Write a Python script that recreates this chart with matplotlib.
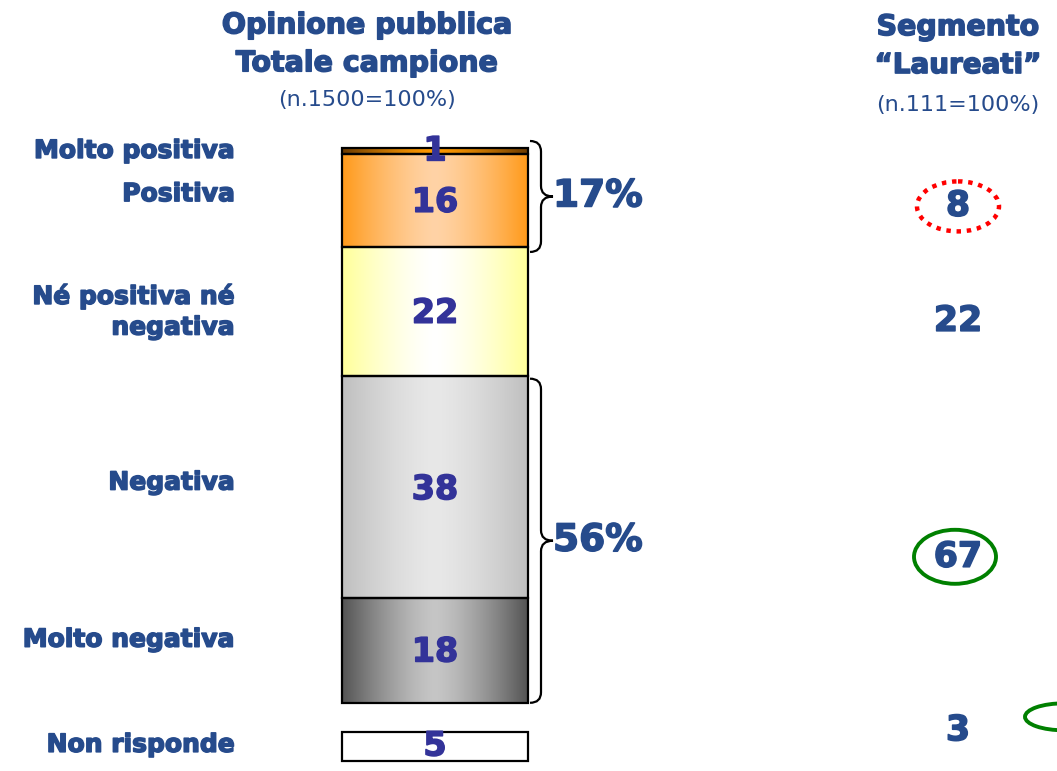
import numpy as np
import matplotlib
matplotlib.use('Agg')
import matplotlib.pyplot as plt
import matplotlib.patheffects as pe
from matplotlib.patches import Rectangle, Ellipse, PathPatch
from matplotlib.path import Path

# data
categories = ['Molto positiva', 'Positiva', 'Né positiva né\nnegativa', 'Negativa', 'Molto negativa']
totale = [1, 16, 22, 38, 18]
non_risponde = 5
laureati = [8, 22, 67, 3]
bracket_pct = ['17%', '56%']

# styles
edge_cols = ['#6b3a00', '#ff9a1a', '#ffff99', '#bfbfbf', '#545454']
mid_cols = ['#ff9900', '#ffd3a6', '#ffffff', '#e8e8e8', '#c6c6c6']
txt_blue = '#264b8c'
num_blue = '#333399'


def heavy(c):
    # thicken DejaVu bold a little to look like the original heavy font
    return [pe.withStroke(linewidth=1.1, foreground=c)]


W, H = 1057, 771
fig = plt.figure(figsize=(W / 100, H / 100), dpi=100)
ax = fig.add_axes([0, 0, 1, 1])
# x in pixels, y in percentage units (inverted, 5.84 px per point)
px0, scale = 148, 5.84
ax.set_xlim(0, W)
ax.set_ylim((H - px0) / scale, -px0 / scale)
ax.axis('off')

bx, bw = 342, 186
bottoms = np.concatenate([[0], np.cumsum(totale)[:-1]])


def grad(c_edge, c_mid, n=200):
    e = np.array(matplotlib.colors.to_rgb(c_edge))
    m = np.array(matplotlib.colors.to_rgb(c_mid))
    t = np.linspace(0, 1, n)
    w = 1 - np.abs(2 * t - 1) ** 1.4
    return (e[None, :] * (1 - w[:, None]) + m[None, :] * w[:, None])[None, :, :]


for i, v in enumerate(totale):
    b = bottoms[i]
    ax.imshow(grad(edge_cols[i], mid_cols[i]), extent=(bx, bx + bw, b + v, b),
              aspect='auto', interpolation='bilinear', zorder=1)
    ax.add_patch(Rectangle((bx, b), bw, v, fill=False, ec='black', lw=1.6, zorder=2))

# non risponde box
nr_bottom = sum(totale) + 5
ax.add_patch(Rectangle((bx, nr_bottom), bw, non_risponde, fc='white', ec='black', lw=1.6, zorder=2))

# value labels
val_y = [bottoms[0] + 0.5, bottoms[1] + 8.3, bottoms[2] + 11.3, bottoms[3] + 19.5, bottoms[4] + 9.3]
for v, y in zip(totale, val_y):
    ax.text(bx + bw / 2, y, str(v), ha='center', va='center', fontsize=24,
            fontweight='bold', color=num_blue, zorder=3, path_effects=heavy(num_blue))
ax.text(bx + bw / 2, nr_bottom + 2.4, str(non_risponde), ha='center', va='center',
        fontsize=24, fontweight='bold', color=num_blue, zorder=3, path_effects=heavy(num_blue))

# category labels
lab_y = [0.5, 7.9, 28.0, 57.3, 84.2]
for lab, y in zip(categories, lab_y):
    ax.text(235, y, lab, ha='right', va='center', fontsize=18, fontweight='bold',
            color=txt_blue, linespacing=1.35, multialignment='right', path_effects=heavy(txt_blue))
ax.text(235, nr_bottom + 2.2, 'Non risponde', ha='right', va='center', fontsize=18,
        fontweight='bold', color=txt_blue, path_effects=heavy(txt_blue))


def brace(y0, y1, x0=530, xs=541, xt=553, r=1.8):
    ym = (y0 + y1) / 2
    verts = [(x0, y0), (xs, y0), (xs, y0 + r), (xs, ym - r), (xs, ym), (xt, ym),
             (xs, ym), (xs, ym + r), (xs, y1 - r), (xs, y1), (x0, y1)]
    codes = [Path.MOVETO, Path.CURVE3, Path.CURVE3, Path.LINETO, Path.CURVE3, Path.CURVE3,
             Path.CURVE3, Path.CURVE3, Path.LINETO, Path.CURVE3, Path.CURVE3]
    ax.add_patch(PathPatch(Path(verts, codes), fill=False, ec='black', lw=1.6))
    return ym


cum = np.cumsum(totale)
ym1 = brace(-1.2, cum[1] + 0.8)
ym2 = brace(cum[2] + 0.5, cum[4])
ax.text(553, ym1, bracket_pct[0], ha='left', va='center', fontsize=27, fontweight='bold',
        color=txt_blue, path_effects=heavy(txt_blue))
ax.text(553, ym2, bracket_pct[1], ha='left', va='center', fontsize=27, fontweight='bold',
        color=txt_blue, path_effects=heavy(txt_blue))

# laureati column
lau_y = [9.9, 29.6, 70.0, 99.7]
for v, y in zip(laureati, lau_y):
    ax.text(958, y, str(v), ha='center', va='center', fontsize=25, fontweight='bold',
            color=txt_blue, path_effects=heavy(txt_blue))
ax.add_patch(Ellipse((958, lau_y[0] + 0.1), 82, 50 / scale, fill=False, ec='#ff0000',
                     lw=3.2, ls=(0, (1, 1.3))))
ax.add_patch(Ellipse((955, lau_y[2]), 82, 54 / scale, fill=False, ec='#008000', lw=2.8))
ax.add_patch(Ellipse((1064, 97.4), 78, 27 / scale, fill=False, ec='#008000', lw=2.8, clip_on=False))

# headings
ax.text(367, -21.0, 'Opinione pubblica', ha='center', va='center', fontsize=20.5,
        fontweight='bold', color=txt_blue, path_effects=heavy(txt_blue))
ax.text(367, -14.5, 'Totale campione', ha='center', va='center', fontsize=20.5,
        fontweight='bold', color=txt_blue, path_effects=heavy(txt_blue))
ax.text(367, -8.2, '(n.1500=100%)', ha='center', va='center', fontsize=16, color=txt_blue)
ax.text(958, -20.7, 'Segmento', ha='center', va='center', fontsize=20.5,
        fontweight='bold', color=txt_blue, path_effects=heavy(txt_blue))
ax.text(958, -14.2, '\u201cLaureati\u201d', ha='center', va='center', fontsize=20,
        fontweight='bold', color=txt_blue, path_effects=heavy(txt_blue))
ax.text(958, -7.4, '(n.111=100%)', ha='center', va='center', fontsize=16, color=txt_blue)

fig.savefig('out.png', dpi=100)
